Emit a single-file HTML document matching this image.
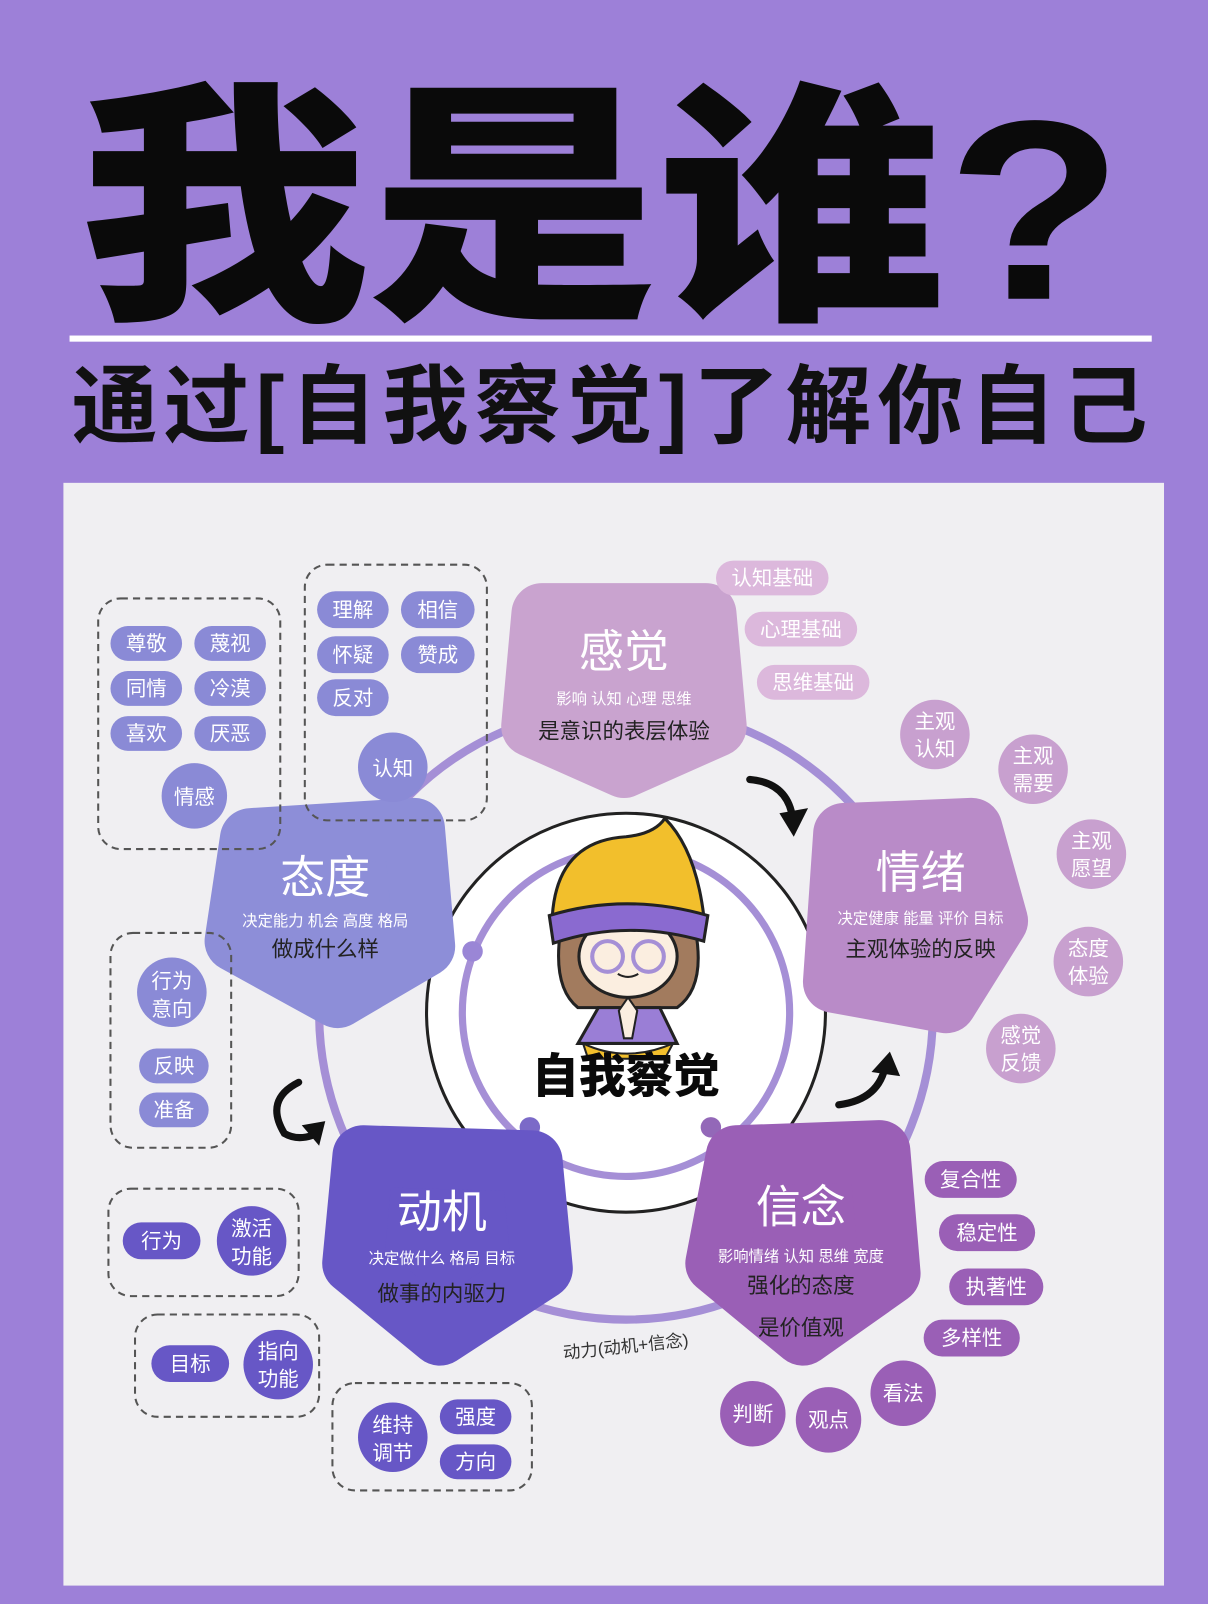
<!DOCTYPE html>
<html><head><meta charset="utf-8"><style>
html,body{margin:0;padding:0;background:#9d80d8;}
svg{display:block}
text{font-family:"Liberation Sans","Noto Sans CJK SC",sans-serif;}
</style></head><body>
<svg width="1208" height="1604" viewBox="0 0 1181 1568" preserveAspectRatio="none" xmlns="http://www.w3.org/2000/svg">
<rect width="1181" height="1568" fill="#9d80d8"/>
<text x="78" y="292" font-size="250" font-weight="900" fill="#0a0a0a" textLength="1020" lengthAdjust="spacingAndGlyphs">我是谁?</text>
<rect x="68" y="328" width="1058" height="6" fill="#fff"/>
<text x="596" y="426" text-anchor="middle" font-size="84" font-weight="700" fill="#111" textLength="1052">通过[自我察觉]了解你自己</text>
<rect x="62" y="472" width="1076" height="1078" fill="#f0eff2"/>

<circle cx="612" cy="990" r="300" fill="none" stroke="#a58fd6" stroke-width="8"/>
<circle cx="612" cy="990" r="195" fill="#fff" stroke="#222" stroke-width="3"/>
<circle cx="612" cy="990" r="160" fill="none" stroke="#a58fd6" stroke-width="7"/>
<circle cx="462" cy="930" r="10" fill="#9a86d6"/>
<circle cx="518" cy="1102" r="10" fill="#7b6ac8"/>
<circle cx="695" cy="1102" r="10" fill="#9368b8"/>

<g stroke-linejoin="round" stroke-width="60">
<polygon points="530,600 690,600 700,710 610,750 520,710" fill="#c9a3cf" stroke="#c9a3cf"/>
<polygon points="825,815 950,810 975,900 925,980 815,960" fill="#b98bc8" stroke="#b98bc8"/>
<polygon points="720,1130 860,1125 870,1245 785,1305 700,1235" fill="#9a5fb6" stroke="#9a5fb6"/>
<polygon points="355,1130 520,1135 530,1240 430,1305 345,1235" fill="#6757c6" stroke="#6757c6"/>
<polygon points="245,820 405,810 415,925 330,975 230,920" fill="#8d8ed8" stroke="#8d8ed8"/>
</g>
<g fill="#fff" text-anchor="middle">
<text x="610" y="652" font-size="44">感觉</text>
<text x="610" y="688" font-size="15">影响 认知 心理 思维</text>
<text x="610" y="722" font-size="21" fill="#222">是意识的表层体验</text>
<text x="900" y="868" font-size="44">情绪</text>
<text x="900" y="903" font-size="15">决定健康 能量 评价 目标</text>
<text x="900" y="935" font-size="21" fill="#222">主观体验的反映</text>
<text x="783" y="1195" font-size="44">信念</text>
<text x="783" y="1233" font-size="15">影响情绪 认知 思维 宽度</text>
<text x="783" y="1264" font-size="21" fill="#222">强化的态度</text>
<text x="783" y="1305" font-size="21" fill="#222">是价值观</text>
<text x="432" y="1200" font-size="44">动机</text>
<text x="432" y="1235" font-size="15">决定做什么 格局 目标</text>
<text x="432" y="1272" font-size="21" fill="#222">做事的内驱力</text>
<text x="318" y="873" font-size="44">态度</text>
<text x="318" y="905" font-size="15">决定能力 机会 高度 格局</text>
<text x="318" y="935" font-size="21" fill="#222">做成什么样</text>
</g>
<text x="612" y="1322" text-anchor="middle" font-size="17" fill="#333" transform="rotate(-6 612 1318)">动力(动机+信念)</text>

<g fill="none" stroke="#111" stroke-width="7" stroke-linecap="round">
<path d="M733 762 Q770 765 775 800"/>
<path d="M866 1040 Q860 1075 820 1080"/>
<path d="M292 1058 Q258 1075 278 1108 Q290 1115 305 1110"/>
</g>
<g fill="#111">
<polygon points="762,795 790,790 776,818"/>
<polygon points="852,1048 880,1052 870,1028"/>
<polygon points="295,1100 312,1120 318,1096"/>
</g>

<!-- character -->
<path d="M548 910 Q540 965 565 985 L662 985 Q690 965 680 910 Z" fill="#a27b5e" stroke="#222" stroke-width="3"/>
<path d="M540 895 Q545 822 612 818 Q640 815 650 800 Q680 830 688 895 Z" fill="#f2bf2c" stroke="#222" stroke-width="3"/>
<ellipse cx="614" cy="935" rx="48" ry="40" fill="#fbeee0" stroke="#222" stroke-width="3"/>
<path d="M537 895 Q612 872 692 895 L688 920 Q612 898 541 922 Z" fill="#8a6ad0" stroke="#222" stroke-width="3"/>
<circle cx="594" cy="935" r="15" fill="none" stroke="#a58fd6" stroke-width="4"/>
<circle cx="634" cy="935" r="15" fill="none" stroke="#a58fd6" stroke-width="4"/>
<path d="M604 952 Q614 958 624 952" fill="none" stroke="#222" stroke-width="2"/>
<path d="M585 985 L645 985 L662 1020 L565 1020 Z" fill="#9a7ed6" stroke="#222" stroke-width="3"/>
<path d="M570 1020 Q612 1040 658 1020 L650 1035 L575 1035 Z" fill="#f2bf2c" stroke="#222" stroke-width="2"/>
<path d="M605 988 L614 975 L623 988 L618 1015 L610 1015 Z" fill="#fbeee0" stroke="#222" stroke-width="2"/>
<text x="612" y="1068" text-anchor="middle" font-size="46" font-weight="900" fill="#0a0a0a">自我察觉</text>

<g fill="none" stroke="#555" stroke-width="2" stroke-dasharray="7 5">
<rect x="96" y="585" width="178" height="245" rx="22"/>
<rect x="298" y="552" width="178" height="250" rx="22"/>
<rect x="108" y="912" width="118" height="210" rx="22"/>
<rect x="106" y="1162" width="186" height="105" rx="22"/>
<rect x="132" y="1285" width="180" height="100" rx="22"/>
<rect x="325" y="1352" width="195" height="105" rx="22"/>
</g>

<g font-size="20" text-anchor="middle" fill="#fff">
<g fill="#8a8ad6"><rect x="108" y="612" width="70" height="34" rx="17"/><rect x="190" y="612" width="70" height="34" rx="17"/>
<rect x="108" y="656" width="70" height="34" rx="17"/><rect x="190" y="656" width="70" height="34" rx="17"/>
<rect x="108" y="700" width="70" height="34" rx="17"/><rect x="190" y="700" width="70" height="34" rx="17"/>
<circle cx="190" cy="778" r="32"/></g>
<text x="143" y="636">尊敬</text><text x="225" y="636">蔑视</text><text x="143" y="680">同情</text><text x="225" y="680">冷漠</text><text x="143" y="724">喜欢</text><text x="225" y="724">厌恶</text><text x="190" y="786">情感</text>
<g fill="#8a8ad6"><rect x="310" y="578" width="70" height="36" rx="18"/><rect x="392" y="578" width="72" height="36" rx="18"/>
<rect x="310" y="622" width="70" height="36" rx="18"/><rect x="392" y="622" width="72" height="36" rx="18"/>
<rect x="310" y="664" width="70" height="36" rx="18"/><circle cx="384" cy="750" r="34"/></g>
<text x="345" y="603">理解</text><text x="428" y="603">相信</text><text x="345" y="647">怀疑</text><text x="428" y="647">赞成</text><text x="345" y="689">反对</text><text x="384" y="758">认知</text>
<g fill="#8a8ad6"><circle cx="168" cy="970" r="34"/><rect x="136" y="1025" width="68" height="34" rx="17"/><rect x="136" y="1068" width="68" height="34" rx="17"/></g>
<text x="168" y="966">行为</text><text x="168" y="993">意向</text><text x="170" y="1049">反映</text><text x="170" y="1092">准备</text>
<g fill="#6757c6"><rect x="120" y="1195" width="76" height="36" rx="18"/><circle cx="246" cy="1213" r="34"/>
<rect x="148" y="1315" width="76" height="36" rx="18"/><circle cx="272" cy="1334" r="34"/>
<circle cx="384" cy="1405" r="34"/><rect x="430" y="1368" width="70" height="34" rx="17"/><rect x="430" y="1412" width="70" height="34" rx="17"/></g>
<text x="158" y="1220">行为</text><text x="246" y="1208">激活</text><text x="246" y="1235">功能</text>
<text x="186" y="1340">目标</text><text x="272" y="1328">指向</text><text x="272" y="1355">功能</text>
<text x="384" y="1400">维持</text><text x="384" y="1427">调节</text><text x="465" y="1392">强度</text><text x="465" y="1436">方向</text>
</g>
<g font-size="20" text-anchor="middle" fill="#fff">
<g fill="#dcb8dc"><rect x="700" y="548" width="110" height="34" rx="17"/><rect x="728" y="598" width="110" height="34" rx="17"/><rect x="740" y="650" width="110" height="34" rx="17"/></g>
<text x="755" y="572">认知基础</text><text x="783" y="622">心理基础</text><text x="795" y="674">思维基础</text>
<g fill="#c8a0cf"><circle cx="914" cy="718" r="34"/><circle cx="1010" cy="752" r="34"/><circle cx="1067" cy="835" r="34"/><circle cx="1064" cy="940" r="34"/><circle cx="998" cy="1025" r="34"/></g>
<text x="914" y="712">主观</text><text x="914" y="739">认知</text><text x="1010" y="746">主观</text><text x="1010" y="773">需要</text>
<text x="1067" y="829">主观</text><text x="1067" y="856">愿望</text><text x="1064" y="934">态度</text><text x="1064" y="961">体验</text>
<text x="998" y="1019">感觉</text><text x="998" y="1046">反馈</text>
<g fill="#9a5fb6"><rect x="904" y="1135" width="90" height="36" rx="18"/><rect x="918" y="1187" width="94" height="36" rx="18"/>
<rect x="928" y="1240" width="92" height="36" rx="18"/><rect x="903" y="1290" width="94" height="36" rx="18"/>
<circle cx="883" cy="1362" r="32"/><circle cx="736" cy="1382" r="32"/><circle cx="810" cy="1388" r="32"/></g>
<text x="949" y="1160">复合性</text><text x="965" y="1212">稳定性</text><text x="974" y="1265">执著性</text><text x="950" y="1315">多样性</text>
<text x="883" y="1369">看法</text><text x="736" y="1389">判断</text><text x="810" y="1395">观点</text>
</g>
</svg>
</body></html>
